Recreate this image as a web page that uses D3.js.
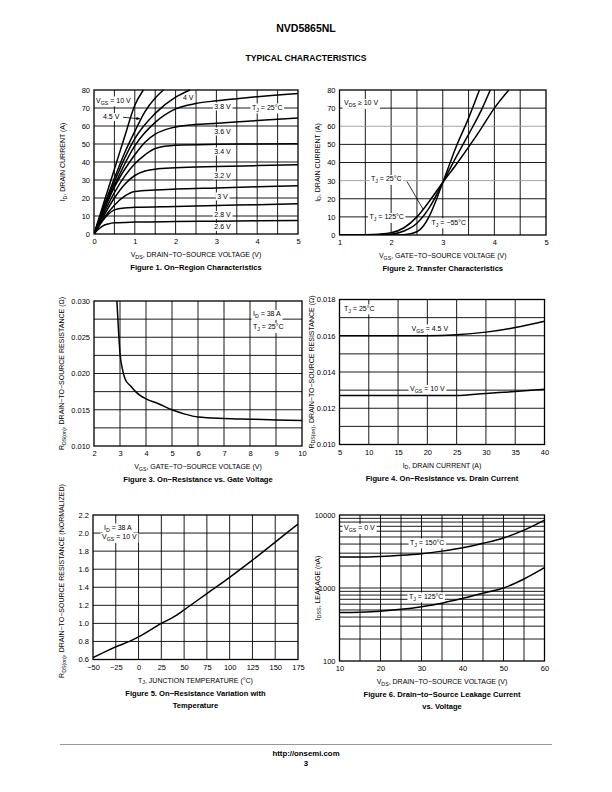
<!DOCTYPE html>
<html><head><meta charset="utf-8">
<script src="https://cdn.jsdelivr.net/npm/d3@7"></script>
<style>
body{margin:0;background:#fff}
svg{display:block}
text{font-family:"Liberation Sans",Arial,Helvetica,sans-serif;fill:#000}
</style>
</head><body>
<svg id="page" width="612" height="792"></svg>
<script>
// ---------------- DATA ----------------
// Figure 1: On-Region Characteristics  [VDS (V), ID (A)]
const fig1Vgs10 = [[0,0],[0.25,18],[0.5,36],[0.75,54],[1,71.5],[1.21,80]];
const fig1Vgs45 = [[0,0],[0.25,16],[0.5,31],[0.75,45],[1,57],[1.25,68],[1.5,75.5],[1.7,80]];
const fig1Vgs4  = [[0,0],[0.25,15],[0.5,29],[0.75,42],[1,53],[1.5,67],[2,76],[2.35,80]];
const fig1Vgs38 = [[0,0],[0.5,27],[1,49],[1.5,62],[2,69.5],[2.5,72.5],[3,74],[3.5,75.2],[4,76.3],[4.5,77.2],[5,78]];
const fig1Vgs36 = [[0,0],[0.5,26],[1,44],[1.25,51],[1.5,55.5],[1.75,58],[2,59.5],[3,61.5],[4,63],[5,64.5]];
const fig1Vgs34 = [[0,0],[0.5,23],[0.75,32],[1,39],[1.25,44],[1.5,47.5],[2,49.3],[3,49.8],[4,50],[5,50.2]];
const fig1Vgs32 = [[0,0],[0.5,20],[0.75,27.5],[1,32.5],[1.25,35],[1.5,36],[2,36.8],[3,37.5],[4,38],[5,38.5]];
const fig1Vgs3  = [[0,0],[0.25,9],[0.5,16],[0.75,21],[1,23.6],[1.5,24.5],[2,25],[3,25.6],[4,26.2],[5,26.8]];
const fig1Vgs28 = [[0,0],[0.2,7],[0.35,11],[0.5,13.4],[0.75,14.5],[1,14.8],[2,15.3],[3,15.8],[4,16.3],[5,16.8]];
const fig1Vgs26 = [[0,0],[0.1,2.5],[0.2,4.3],[0.35,5.6],[0.5,6.2],[1,6.6],[2,6.9],[3,7.1],[4,7.3],[5,7.5]];
const fig1XTicks = [0,1,2,3,4,5];
const fig1YTicks = [0,10,20,30,40,50,60,70,80];

// Figure 2: Transfer Characteristics [VGS (V), ID (A)]
const fig2Tm55 = [[1,0],[2,0],[2.25,0.2],[2.5,1.8],[2.625,5],[2.75,11],[2.875,19.5],[3,29],[3.125,38.5],[3.25,48],[3.5,64.5],[3.71,80]];
const fig2T25  = [[1,0],[1.75,0],[2,0.4],[2.25,2.2],[2.5,6.5],[2.75,15.5],[3,29],[3.25,42.5],[3.5,55.5],[3.75,69],[3.92,80]];
const fig2T125 = [[1,0],[1.5,0.1],[1.75,0.4],[2,1.2],[2.25,4],[2.5,10],[2.75,19],[3,29],[3.25,38.5],[3.5,48.5],[3.75,59],[4,70],[4.28,80]];
const fig2XTicks = [1,2,3,4,5];
const fig2YTicks = [0,10,20,30,40,50,60,70,80];

// Figure 3: On-Resistance vs Gate Voltage
const fig3Vgs = [2.88,2.95,3.0,3.1,3.2,3.4,3.6,3.8,4.0,4.5,5.0,5.5,6.0,7.0,8.0,9.0,10.0];
const fig3Rds = [0.030,0.0255,0.0228,0.0205,0.0192,0.0183,0.0175,0.0169,0.0165,0.0158,0.0150,0.0144,0.0140,0.0138,0.0137,0.0136,0.0135];
const fig3XTicks = [2,3,4,5,6,7,8,9,10];
const fig3YTicks = [0.010,0.015,0.020,0.025,0.030];

// Figure 4: On-Resistance vs Drain Current
const fig4Id = [5,10,15,20,25,30,35,40];
const fig4Vgs45 = [0.0160,0.0160,0.0160,0.0160,0.01605,0.0162,0.01645,0.0168];
const fig4Vgs10 = [0.0127,0.0127,0.0127,0.0127,0.0127,0.01282,0.01292,0.01305];
const fig4XTicks = [5,10,15,20,25,30,35,40];
const fig4YTicks = [0.010,0.012,0.014,0.016,0.018];

// Figure 5: On-Resistance vs Temperature
const fig5Tj = [-50,-25,-10,0,25,40,50,75,100,125,150,175];
const fig5Rn = [0.62,0.74,0.80,0.85,1.0,1.08,1.15,1.33,1.51,1.70,1.90,2.10];
const fig5XTicks = [-50,-25,0,25,50,75,100,125,150,175];
const fig5YTicks = [0.6,0.8,1.0,1.2,1.4,1.6,1.8,2.0,2.2];

// Figure 6: Drain-to-Source Leakage Current vs Voltage
const fig6Vds = [10,15,20,25,30,35,40,45,50,55,60];
const fig6T150 = [2650,2650,2700,2800,2950,3200,3550,4100,4850,6200,8500];
const fig6T125 = [460,465,480,510,555,620,720,850,1000,1330,1900];
const fig6XTicks = [10,20,30,40,50,60];
const fig6YTicks = [100,1000,10000];

// ---------------- DRAWING ----------------
const svg = d3.select('#page');
svg.append('rect').attr('width',612).attr('height',792).attr('fill','#fff');
const defs = svg.append('defs');
defs.append('marker').attr('id','arr').attr('viewBox','0 0 10 10').attr('refX',9).attr('refY',5)
  .attr('markerWidth',5).attr('markerHeight',5).attr('orient','auto')
  .append('path').attr('d','M0,1 L10,5 L0,9 Z').attr('fill','#000');

function rich(t, str, fs){
  const re = /_\{([^}]*)\}/g; let last=0, m, shifted=false; const sub=fs*0.28;
  while((m=re.exec(str))){
    if(m.index>last){ t.append('tspan').attr('dy', shifted?-sub:0).text(str.slice(last,m.index)); shifted=false; }
    t.append('tspan').attr('dy', shifted?0:sub).attr('font-size', fs*0.75).text(m[1]); shifted=true;
    last=re.lastIndex;
  }
  if(last<str.length) t.append('tspan').attr('dy', shifted?-sub:0).text(str.slice(last));
  return t;
}

function label(g, x, y, str, opt={}){
  const fs = opt.fs||7;
  const t = g.append('text').attr('x',x).attr('y',y+fs*0.35).attr('font-size',fs)
    .attr('text-anchor', opt.anchor||'start');
  rich(t,str,fs);
  if(opt.bg!==false){
    const b = t.node().getBBox();
    g.insert('rect', () => t.node()).attr('x',b.x-1.5).attr('y',b.y-0.5).attr('width',b.width+3).attr('height',b.height+1).attr('fill','#fff');
  }
  return t;
}

const minusFmt = d => String(d).replace('-', '−');

let clipId=0;
function chart(c){
  const g = svg.append('g');
  const x = d3.scaleLinear().domain(c.xDomain).range([c.x0,c.x1]);
  const y = (c.yLog?d3.scaleLog():d3.scaleLinear()).domain(c.yDomain).range([c.y1,c.y0]);
  // grid
  c.xGrid.forEach(v=>g.append('line').attr('x1',x(v)).attr('x2',x(v)).attr('y1',c.y0).attr('y2',c.y1)
    .attr('stroke','#000').attr('stroke-width',0.9));
  c.yGrid.forEach(v=>g.append('line').attr('x1',c.x0).attr('x2',c.x1).attr('y1',y(v)).attr('y2',y(v))
    .attr('stroke', (c.greyY && c.greyY.includes(v))?'#9a9a9a':'#000').attr('stroke-width',0.9));
  // labels in plot
  const lg = g.append('g');
  (c.labels||[]).forEach(l=>label(lg,l[0],l[1],l[2],l[3]||{}));
  // curves
  const id='clip'+(clipId++);
  defs.append('clipPath').attr('id',id).append('rect').attr('x',c.x0).attr('y',c.y0-1).attr('width',c.x1-c.x0).attr('height',c.y1-c.y0+1);
  const line = d3.line().x(d=>x(d[0])).y(d=>y(d[1])).curve(d3.curveMonotoneX);
  c.series.forEach(s=>g.append('path').attr('d',line(s)).attr('fill','none').attr('stroke','#000')
    .attr('stroke-width',1.5).attr('stroke-linejoin','round').attr('clip-path',`url(#${id})`));
  // border
  g.append('rect').attr('x',c.x0).attr('y',c.y0).attr('width',c.x1-c.x0).attr('height',c.y1-c.y0)
    .attr('fill','none').attr('stroke','#000').attr('stroke-width',1.3);
  // axes
  const ax = g.append('g').attr('transform',`translate(0,${c.y1})`)
    .call(d3.axisBottom(x).tickValues(c.xTicks).tickSize(0).tickPadding(5).tickFormat(c.xFmt||minusFmt));
  const ay = g.append('g').attr('transform',`translate(${c.x0},0)`)
    .call(d3.axisLeft(y).tickValues(c.yTicks).tickSize(0).tickPadding(4).tickFormat(c.yFmt||minusFmt));
  [ax,ay].forEach(a=>{a.select('.domain').remove(); a.selectAll('text').attr('font-size',7.5).attr('font-family','"Liberation Sans",Arial,sans-serif').attr('fill','#000');});
  // titles
  const xt = g.append('text').attr('x',(c.x0+c.x1)/2).attr('y',c.y1+23).attr('font-size',7).attr('text-anchor','middle');
  rich(xt,c.xTitle,7);
  const ytY = c.yTitleY||(c.y0+c.y1)/2;
  const yt = g.append('text').attr('transform',`translate(${c.yTitleX},${ytY}) rotate(-90)`).attr('font-size',7).attr('text-anchor','middle');
  rich(yt,c.yTitle,7);
  c.caption.forEach((s,i)=>g.append('text').attr('x',(c.x0+c.x1)/2).attr('y',c.y1+36+i*12).attr('font-size',7.6)
    .attr('font-weight','bold').attr('text-anchor','middle').text(s));
  return {g,x,y};
}

// Header & footer
svg.append('text').attr('x',306).attr('y',32).attr('text-anchor','middle').attr('font-size',10.5).attr('font-weight','bold').text('NVD5865NL');
svg.append('text').attr('x',306).attr('y',60.5).attr('text-anchor','middle').attr('font-size',8.6).attr('font-weight','bold').text('TYPICAL CHARACTERISTICS');
svg.append('line').attr('x1',60).attr('x2',552).attr('y1',744.5).attr('y2',744.5).attr('stroke','#999').attr('stroke-width',1.2);
svg.append('text').attr('x',306).attr('y',755.5).attr('text-anchor','middle').attr('font-size',7.8).attr('font-weight','bold').text('http://onsemi.com');
svg.append('text').attr('x',306).attr('y',766).attr('text-anchor','middle').attr('font-size',7.8).attr('font-weight','bold').text('3');

// Figure 1
const c1 = chart({x0:94,x1:298,y0:90,y1:234,xDomain:[0,5],yDomain:[0,80],
  xGrid:d3.range(0.5,5,0.5),yGrid:d3.range(10,80,10),xTicks:fig1XTicks,yTicks:fig1YTicks,
  series:[fig1Vgs10,fig1Vgs45,fig1Vgs4,fig1Vgs38,fig1Vgs36,fig1Vgs34,fig1Vgs32,fig1Vgs3,fig1Vgs28,fig1Vgs26],
  labels:[[96,100.5,'V_{GS} = 10 V'],[103,117,'4.5 V'],[183,98,'4 V'],[222.5,106.5,'3.8 V',{anchor:'middle'}],
    [252,107.5,'T_{J} = 25°C'],[222.5,131.5,'3.6 V',{anchor:'middle'}],[222.5,151.5,'3.4 V',{anchor:'middle'}],
    [222.5,175.5,'3.2 V',{anchor:'middle'}],[222.5,196.5,'3 V',{anchor:'middle'}],[222.5,215,'2.8 V',{anchor:'middle'}],
    [222.5,227,'2.6 V',{anchor:'middle'}]],
  xTitle:'V_{DS}, DRAIN−TO−SOURCE VOLTAGE (V)',yTitle:'I_{D}, DRAIN CURRENT (A)',yTitleX:65,
  caption:['Figure 1. On−Region Characteristics']});
c1.g.append('line').attr('x1',123).attr('y1',117.3).attr('x2',140).attr('y2',118.8).attr('stroke','#000').attr('stroke-width',0.8).attr('marker-end','url(#arr)');

// Figure 2
const c2 = chart({x0:339.5,x1:546,y0:90,y1:235,xDomain:[1,5],yDomain:[0,80],
  xGrid:d3.range(1.5,5,0.5),yGrid:d3.range(10,80,10),greyY:[30,60],xTicks:fig2XTicks,yTicks:fig2YTicks,
  series:[fig2Tm55,fig2T25,fig2T125],
  labels:[[344,103,'V_{DS} ≥ 10 V'],[371,179,'T_{J} = 25°C'],[369.5,217,'T_{J} = 125°C'],[431.5,222.5,'T_{J} = −55°C']],
  xTitle:'V_{GS}, GATE−TO−SOURCE VOLTAGE (V)',yTitle:'I_{D}, DRAIN CURRENT (A)',yTitleX:319.5,
  caption:['Figure 2. Transfer Characteristics']});
c2.g.append('line').attr('x1',407).attr('y1',181.5).attr('x2',423.5).attr('y2',210).attr('stroke','#000').attr('stroke-width',0.8);

// Figure 3
const c3 = chart({x0:94,x1:302,y0:301,y1:446,xDomain:[2,10],yDomain:[0.010,0.030],
  xGrid:d3.range(3,10,1),yGrid:[0.0125,0.015,0.0175,0.020,0.0225,0.025,0.0275],xTicks:fig3XTicks,yTicks:fig3YTicks,
  yFmt:d3.format('.3f'),series:[fig3Vgs.map((v,i)=>[v,fig3Rds[i]])],
  labels:[[253,314,'I_{D} = 38 A'],[253,327,'T_{J} = 25°C']],
  xTitle:'V_{GS}, GATE−TO−SOURCE VOLTAGE (V)',yTitle:'R_{DS(on)}, DRAIN−TO−SOURCE RESISTANCE (Ω)',yTitleX:64,
  caption:['Figure 3. On−Resistance vs. Gate Voltage']});

// Figure 4
const c4 = chart({x0:339.5,x1:544.5,y0:299.5,y1:444.5,xDomain:[5,40],yDomain:[0.010,0.018],
  xGrid:d3.range(10,40,5),yGrid:d3.range(0.011,0.0179,0.001),xTicks:fig4XTicks,yTicks:fig4YTicks,
  yFmt:d3.format('.3f'),series:[fig4Id.map((v,i)=>[v,fig4Vgs45[i]]),fig4Id.map((v,i)=>[v,fig4Vgs10[i]])],
  labels:[[344,308.5,'T_{J} = 25°C'],[411.5,328.5,'V_{GS} = 4.5 V'],[410,389,'V_{GS} = 10 V']],
  xTitle:'I_{D}, DRAIN CURRENT (A)',yTitle:'R_{DS(on)}, DRAIN−TO−SOURCE RESISTANCE (Ω)',yTitleX:313.5,
  caption:['Figure 4. On−Resistance vs. Drain Current']});

// Figure 5
const c5 = chart({x0:93,x1:298,y0:515,y1:659.5,xDomain:[-50,175],yDomain:[0.6,2.2],
  xGrid:d3.range(-25,175,25),yGrid:[0.8,1.0,1.2,1.4,1.6,1.8,2.0],xTicks:fig5XTicks,yTicks:fig5YTicks,
  yFmt:d3.format('.1f'),series:[fig5Tj.map((v,i)=>[v,fig5Rn[i]])],
  labels:[[104,527.5,'I_{D} = 38 A'],[102,537,'V_{GS} = 10 V']],
  xTitle:'T_{J}, JUNCTION TEMPERATURE (°C)',yTitle:'R_{DS(on)}, DRAIN−TO−SOURCE RESISTANCE (NORMALIZED)',yTitleX:64,yTitleY:581,
  caption:['Figure 5. On−Resistance Variation with','Temperature']});

// Figure 6
const logGrid = [200,300,400,500,600,700,800,900,1000,2000,3000,4000,5000,6000,7000,8000,9000];
const c6 = chart({x0:339.5,x1:544.5,y0:515,y1:661,xDomain:[10,60],yDomain:[100,10000],yLog:true,
  xGrid:d3.range(15,60,5),yGrid:logGrid,xTicks:fig6XTicks,yTicks:fig6YTicks,
  series:[fig6Vds.map((v,i)=>[v,fig6T150[i]]),fig6Vds.map((v,i)=>[v,fig6T125[i]])],
  labels:[[344,528,'V_{GS} = 0 V'],[410,542.5,'T_{J} = 150°C'],[409,596.5,'T_{J} = 125°C']],
  xTitle:'V_{DS}, DRAIN−TO−SOURCE VOLTAGE (V)',yTitle:'I_{DSS}, LEAKAGE (nA)',yTitleX:319.5,
  caption:['Figure 6. Drain−to−Source Leakage Current','vs. Voltage']});
</script>
</body></html>
